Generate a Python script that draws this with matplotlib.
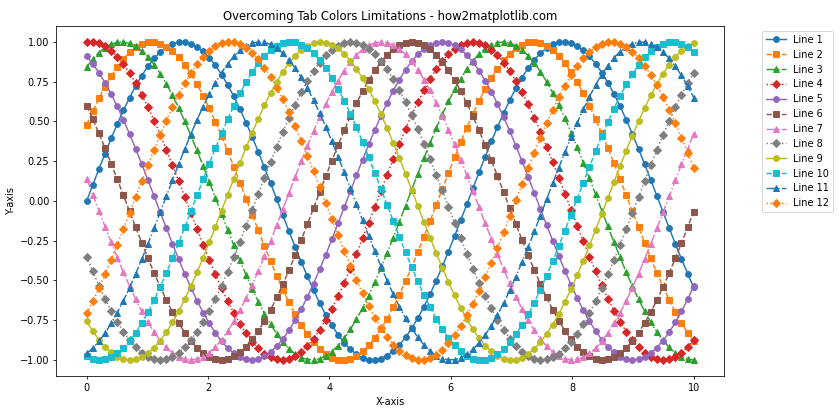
import matplotlib
matplotlib.use("Agg")
import matplotlib.pyplot as plt
import numpy as np

# x grid and phase offsets of the 12 sine curves (read from the start values)
x = np.linspace(0, 10, 100)
phases = [0.0, 0.5, 1.0, 1.5, 2.0, 2.5, 3.0, 3.5, 4.0, 4.5, 5.0, 5.5]
labels = [f"Line {i + 1}" for i in range(12)]

colors = plt.cm.tab10.colors
markers = ["o", "s", "^", "D"]
linestyles = ["-", "--", "-.", ":"]

fig, ax = plt.subplots(figsize=(12, 6), dpi=70)

for i, (ph, lab) in enumerate(zip(phases, labels)):
    ax.plot(x, np.sin(x + ph), color=colors[i % 10],
            marker=markers[i % 4], linestyle=linestyles[i % 4], label=lab)

ax.set_title("Overcoming Tab Colors Limitations - how2matplotlib.com")
ax.set_xlabel("X-axis")
ax.set_ylabel("Y-axis")
ax.legend(bbox_to_anchor=(1.05, 1), loc="upper left")

# match the reference axes placement
fig.subplots_adjust(left=0.067, right=0.862, top=0.938, bottom=0.105)
plt.savefig("out.png")
